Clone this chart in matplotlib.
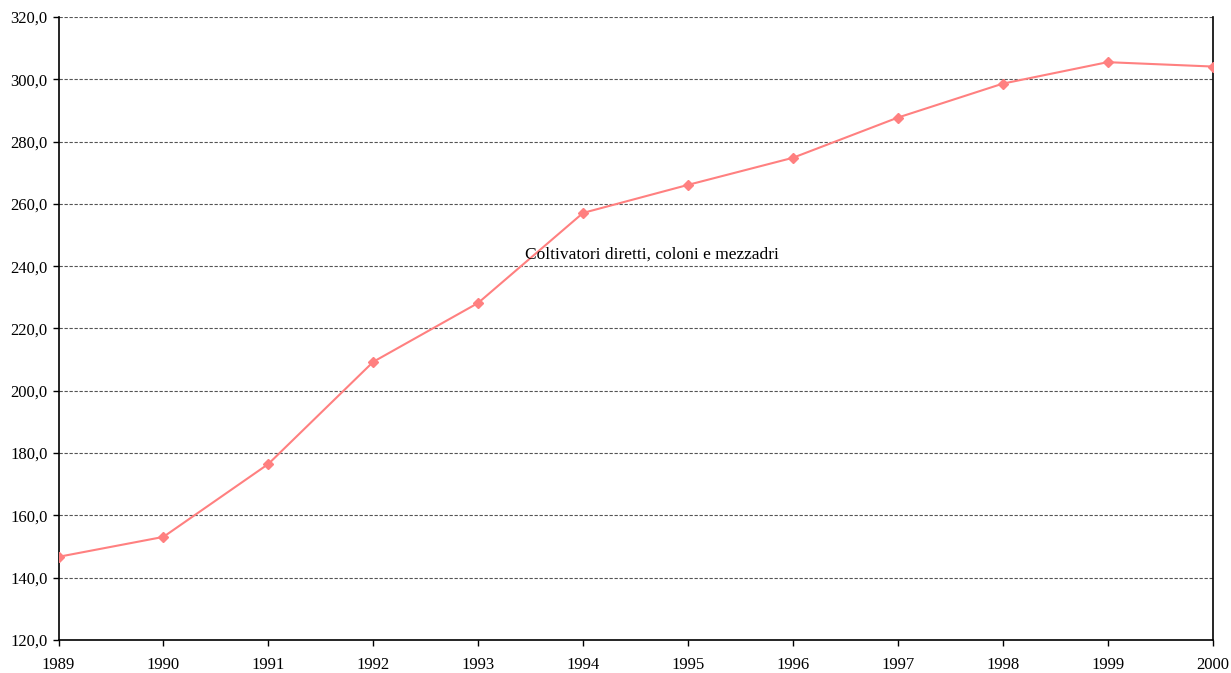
import matplotlib
matplotlib.use("Agg")
import matplotlib.pyplot as plt
from matplotlib.ticker import FuncFormatter, MultipleLocator

years = [1989, 1990, 1991, 1992, 1993, 1994, 1995, 1996, 1997, 1998, 1999, 2000]
values = [146.7, 153.1, 176.5, 209.3, 228.2, 257.1, 266.1, 274.8, 287.7, 298.6, 305.5, 304.1]
series_label = "Coltivatori diretti, coloni e mezzadri"

plt.rcParams['font.family'] = ['Liberation Serif', 'DejaVu Serif']

fig = plt.figure(figsize=(12.31, 6.73), dpi=100)
ax = fig.add_axes([58.5/1231, 33/673, (1212.5-58.5)/1231, (640-17)/673])

ax.plot(years, values, color='#FF8080', linewidth=1.5, marker='D', markersize=5,
        markerfacecolor='#FF8080', markeredgecolor='#FF8080', zorder=3)

ax.set_xlim(1989, 2000)
ax.set_ylim(120, 320)
ax.set_xticks(years)
ax.yaxis.set_major_locator(MultipleLocator(20))
ax.yaxis.set_major_formatter(FuncFormatter(lambda v, p: f"{v:.1f}".replace('.', ',')))
ax.tick_params(axis='both', labelsize=12, direction='out', length=4, width=1, colors='black')
ax.tick_params(axis='x', pad=8)
ax.tick_params(axis='y', pad=4)

ax.grid(axis='y', color='#555555', linestyle=(0, (3, 1.5)), linewidth=0.8)
ax.set_axisbelow(True)

for s in ['left', 'bottom', 'right']:
    ax.spines[s].set_color('black')
    ax.spines[s].set_linewidth(1.2)
ax.spines['top'].set_visible(False)

ax.text(0.514, 0.618, series_label, transform=ax.transAxes, ha='center', va='center', fontsize=12.5)

fig.savefig("out.png", dpi=100)
